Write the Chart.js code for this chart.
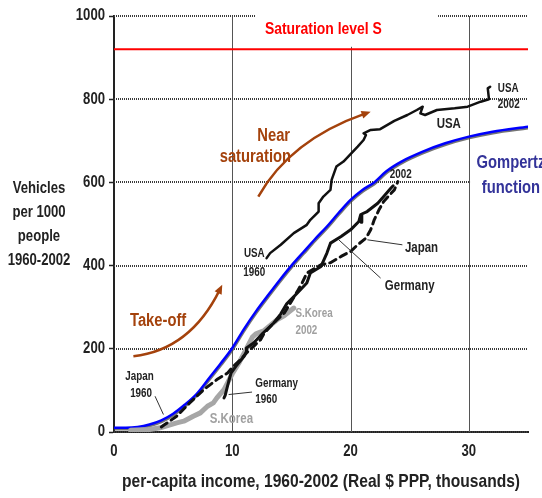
<!DOCTYPE html>
<html>
<head>
<meta charset="utf-8">
<script src="https://cdn.jsdelivr.net/npm/chart.js@4.4.1/dist/chart.umd.min.js"></script>
<style>
  html, body { margin: 0; padding: 0; background: #fff; }
  canvas { display: block; }
</style>
</head>
<body>
<canvas id="myChart" width="542" height="498"></canvas>
<script>
var FONT = '"Liberation Sans", Arial, sans-serif';
var NARROW = 0.82; // horizontal squeeze, gives an Arial Narrow look

// axes
var xTicks = [0, 10, 20, 30];
var yTicks = [0, 200, 400, 600, 800, 1000];
var saturationLevel = 920;

// fitted Gompertz curve
var gompertzIncome   = [0, 1, 2, 3, 4, 5, 6, 7, 8, 9, 10, 11, 12, 13, 14, 15, 16, 17, 18, 19, 20, 21, 22, 23, 24, 25, 26, 28, 30, 32, 35];
var gompertzVehicles = [10, 10, 12, 18, 28, 44, 66, 92, 128, 164, 202, 248, 290, 328, 365, 400, 432, 464, 494, 527, 558, 582, 600, 626, 645, 660, 673, 694, 710, 722, 734];

// country paths, 1960-2002
var usaIncome   = [12.9, 13.2, 14.1, 15.2, 16.3, 16.6, 17.3, 17.3, 17.7, 18.3, 18.4, 18.7, 18.8, 19.4, 20.6, 21.1, 21.3, 21.1, 21.7, 22.5, 23.7, 24.8, 25.6, 26.1, 25.9, 26.3, 27.3, 28.8, 29.9, 31.0, 31.7, 31.6, 31.8];
var usaVehicles = [418, 430, 450, 478, 498, 510, 530, 550, 566, 582, 606, 630, 638, 650, 686, 702, 714, 718, 726, 728, 748, 762, 774, 782, 766, 762, 774, 778, 782, 794, 800, 826, 830];

var germanyIncome   = [9.3, 9.4, 9.7, 9.9, 10.3, 11.0, 11.2, 11.2, 11.8, 12.6, 13.5, 14.1, 14.6, 15.5, 16.3, 16.6, 17.5, 18.0, 18.3, 19.2, 20.0, 20.7, 20.85, 20.9, 20.95, 21.4, 22.3, 22.8, 23.4, 23.6];
var germanyVehicles = [82, 88, 122, 142, 158, 182, 194, 202, 214, 238, 262, 284, 308, 334, 358, 382, 398, 430, 454, 470, 486, 506, 522, 504, 524, 530, 550, 566, 586, 592];

var japanIncome   = [4.0, 4.2, 5.3, 6.4, 7.6, 8.7, 9.6, 10.1, 10.7, 11.2, 11.8, 12.4, 12.7, 13.5, 14.4, 15.5, 15.9, 16.3, 17.5, 18.3, 19.2, 20.0, 20.6, 21.3, 21.7, 22.0, 22.4, 22.8, 23.3, 23.7, 24.0];
var japanVehicles = [12, 16, 38, 70, 102, 126, 142, 158, 174, 190, 206, 222, 238, 262, 286, 338, 358, 382, 402, 407, 422, 434, 450, 466, 486, 510, 534, 554, 570, 582, 602];

var koreaIncome   = [1.4, 3.0, 3.9, 5.3, 5.9, 6.7, 7.3, 7.9, 8.4, 8.7, 9.3, 9.6, 10.0, 10.6, 11.2, 11.7, 12.0, 12.7, 13.8, 14.4, 15.2];
var koreaVehicles = [4, 6, 10, 22, 26, 38, 46, 62, 70, 82, 102, 118, 140, 168, 200, 228, 236, 244, 270, 280, 298];

function pts(xs, ys) {
    return xs.map(function (x, i) { return { x: x, y: ys[i] }; });
}

var BROWN = '#a4420c';
var INK = '#222222';

// text and arrows placed in data units (income, vehicles)
var notes = [
    { text: 'Saturation level S', x: 17.7, y: 968, size: 17, color: '#ff0000' },
    { text: 'Near',        x: 13.5,  y: 712, size: 18, color: BROWN },
    { text: 'saturation',  x: 11.95, y: 661, size: 18, color: BROWN },
    { text: 'Take-off',    x: 3.73,  y: 267, size: 18, color: BROWN },
    { text: 'Gompertz',    x: 33.56, y: 647, size: 18, color: '#333399' },
    { text: 'function',    x: 33.56, y: 587, size: 18, color: '#333399' },
    { text: 'USA',         x: 28.3,  y: 740, size: 14, color: INK },
    { text: 'USA',         x: 32.45, y: 826, size: 12, color: INK, align: 'left' },
    { text: '2002',        x: 32.45, y: 786, size: 12, color: INK, align: 'left' },
    { text: '2002',        x: 24.24, y: 618, size: 12, color: INK },
    { text: 'USA',         x: 11.86, y: 428, size: 12, color: INK },
    { text: '1960',        x: 11.86, y: 384, size: 12, color: INK },
    { text: 'Japan',       x: 2.16,  y: 132, size: 12, color: INK },
    { text: '1960',        x: 2.29,  y: 92,  size: 12, color: INK },
    { text: 'Germany',     x: 11.95, y: 116, size: 12, color: INK, align: 'left' },
    { text: '1960',        x: 11.95, y: 78,  size: 12, color: INK, align: 'left' },
    { text: 'S.Korea',     x: 9.92,  y: 30,  size: 14, color: '#a0a0a0' },
    { text: 'S.Korea',     x: 15.34, y: 285, size: 12, color: '#a0a0a0', align: 'left' },
    { text: '2002',        x: 15.34, y: 243, size: 12, color: '#a0a0a0', align: 'left' },
    { text: 'Japan',       x: 26.0,  y: 441, size: 14, color: INK },
    { text: 'Germany',     x: 25.0,  y: 350, size: 14, color: INK }
];

var pointers = [
    [3.47, 86, 4.18, 42],
    [9.69, 90, 11.67, 96],
    [21.42, 462, 24.38, 450],
    [19.0, 462, 22.54, 370]
];

var arrows = [
    [12.2, 566, 14.9, 702, 21.7, 770],
    [1.64, 182, 6.44, 198, 9.15, 354]
];

function narrowText(ctx, text, x, y, size, color, align) {
    ctx.save();
    ctx.font = 'bold ' + size + 'px ' + FONT;
    ctx.fillStyle = color;
    ctx.textAlign = align || 'center';
    ctx.textBaseline = 'middle';
    ctx.translate(x, y);
    ctx.scale(NARROW, 1);
    ctx.fillText(text, 0, 0);
    ctx.restore();
}

var backdrop = {
    id: 'backdrop',
    beforeDatasetsDraw: function (chart) {
        var ctx = chart.ctx, a = chart.chartArea;
        var sx = chart.scales.x, sy = chart.scales.y;
        ctx.save();
        // vertical grid
        ctx.strokeStyle = '#555';
        ctx.lineWidth = 1;
        xTicks.slice(1).forEach(function (v) {
            var p = Math.round(sx.getPixelForValue(v)) + 0.5;
            ctx.beginPath(); ctx.moveTo(p, a.top); ctx.lineTo(p, a.bottom); ctx.stroke();
        });
        // dotted horizontal grid
        ctx.strokeStyle = '#3a3a3a';
        ctx.lineWidth = 2;
        ctx.setLineDash([1, 1]);
        yTicks.forEach(function (v) {
            var p = Math.round(sy.getPixelForValue(v));
            ctx.beginPath(); ctx.moveTo(a.left, p); ctx.lineTo(a.right, p); ctx.stroke();
        });
        ctx.setLineDash([]);
        // blank areas behind the headline and the curve name
        ctx.fillStyle = '#fff';
        var x0 = sx.getPixelForValue(12), x1 = sx.getPixelForValue(27.4);
        var y0 = sy.getPixelForValue(1000) - 3, y1 = sy.getPixelForValue(926);
        ctx.fillRect(x0, y0, x1 - x0, y1 - y0);
        x0 = sx.getPixelForValue(30.1);
        y0 = sy.getPixelForValue(690); y1 = sy.getPixelForValue(560);
        ctx.fillRect(x0, y0, chart.width - x0, y1 - y0);
        ctx.restore();
    },
    beforeDatasetDraw: function (chart, args) {
        if (args.meta.label === 'Gompertz') {
            chart.ctx.save();
            chart.ctx.shadowColor = 'rgba(70,70,70,0.75)';
            chart.ctx.shadowOffsetX = 0.5;
            chart.ctx.shadowOffsetY = 1.5;
        }
    },
    afterDatasetDraw: function (chart, args) {
        if (args.meta.label === 'Gompertz') chart.ctx.restore();
    },
    afterDatasetsDraw: function (chart) {
        var ctx = chart.ctx;
        var sx = chart.scales.x, sy = chart.scales.y;
        function X(v) { return sx.getPixelForValue(v); }
        function Y(v) { return sy.getPixelForValue(v); }
        ctx.save();

        // curved arrows
        ctx.strokeStyle = BROWN;
        ctx.fillStyle = BROWN;
        ctx.lineWidth = 2.5;
        arrows.forEach(function (r) {
            var ax = X(r[0]), ay = Y(r[1]), cx = X(r[2]), cy = Y(r[3]), bx = X(r[4]), by = Y(r[5]);
            var ang = Math.atan2(by - cy, bx - cx);
            var ex = bx - 6 * Math.cos(ang), ey = by - 6 * Math.sin(ang);
            ctx.beginPath(); ctx.moveTo(ax, ay); ctx.quadraticCurveTo(cx, cy, ex, ey); ctx.stroke();
            ctx.beginPath();
            ctx.moveTo(bx, by);
            ctx.lineTo(bx - 10 * Math.cos(ang - 0.4), by - 10 * Math.sin(ang - 0.4));
            ctx.lineTo(bx - 10 * Math.cos(ang + 0.4), by - 10 * Math.sin(ang + 0.4));
            ctx.closePath(); ctx.fill();
        });

        // leader lines
        ctx.strokeStyle = '#333';
        ctx.lineWidth = 1;
        pointers.forEach(function (p) {
            ctx.beginPath(); ctx.moveTo(X(p[0]), Y(p[1])); ctx.lineTo(X(p[2]), Y(p[3])); ctx.stroke();
        });
        ctx.restore();

        notes.forEach(function (n) {
            narrowText(ctx, n.text, X(n.x), Y(n.y), n.size, n.color, n.align);
        });

        // tick labels
        yTicks.forEach(function (v) {
            narrowText(ctx, String(v), sy.left + sy.width - 9, Y(v), 16, INK, 'right');
        });
        xTicks.forEach(function (v) {
            narrowText(ctx, String(v), X(v), 452, 16, INK);
        });

        // axis titles
        ['Vehicles', 'per 1000', 'people', '1960-2002'].forEach(function (t, i) {
            narrowText(ctx, t, 39, 189 + i * 24, 16, INK);
        });
        narrowText(ctx, 'per-capita income, 1960-2002 (Real $ PPP, thousands)', 321, 482, 19, INK);
    }
};

var ctx = document.getElementById('myChart').getContext('2d');
var myChart = new Chart(ctx, {
    type: 'line',
    data: {
        datasets: [
            {
                label: 'Germany',
                data: pts(germanyIncome, germanyVehicles),
                borderColor: '#111',
                borderWidth: 3,
            },
            {
                label: 'Japan',
                data: pts(japanIncome, japanVehicles),
                borderColor: '#111',
                borderWidth: 3,
                borderDash: [7, 5],
            },
            {
                label: 'USA',
                data: pts(usaIncome, usaVehicles),
                borderColor: '#111',
                borderWidth: 2.5,
            },
            {
                label: 'S.Korea',
                data: pts(koreaIncome, koreaVehicles),
                borderColor: '#a6a6a6',
                borderWidth: 5,
            },
            {
                label: 'Gompertz',
                data: pts(gompertzIncome, gompertzVehicles),
                borderColor: '#0000ff',
                borderWidth: 2.5,
                cubicInterpolationMode: 'monotone',
            },
            {
                label: 'Saturation level S',
                data: pts([0, 35], [saturationLevel, saturationLevel]),
                borderColor: '#ff0000',
                borderWidth: 2,
            },
        ],
    },
    options: {
        responsive: false,
        animation: false,
        events: [],
        layout: { padding: { left: 0, right: 14, top: 16, bottom: 0 } },
        elements: { point: { radius: 0 }, line: { tension: 0, fill: false, borderJoinStyle: 'round', borderCapStyle: 'round' } },
        plugins: { legend: { display: false }, tooltip: { enabled: false } },
        scales: {
            x: {
                type: 'linear',
                min: 0,
                max: 35,
                afterBuildTicks: function (s) { s.ticks = xTicks.map(function (v) { return { value: v }; }); },
                afterFit: function (s) { s.height = 66; },
                grid: { drawOnChartArea: false, drawTicks: false },
                border: { color: INK, width: 2 },
                ticks: { display: false },
            },
            y: {
                min: 0,
                max: 1000,
                afterBuildTicks: function (s) { s.ticks = yTicks.map(function (v) { return { value: v }; }); },
                afterFit: function (s) { s.width = 114; },
                grid: { drawOnChartArea: false, tickLength: 5, tickColor: INK, tickWidth: 1.5 },
                border: { color: INK, width: 2 },
                ticks: { display: false },
            },
        },
    },
    plugins: [backdrop],
});
</script>
</body>
</html>
